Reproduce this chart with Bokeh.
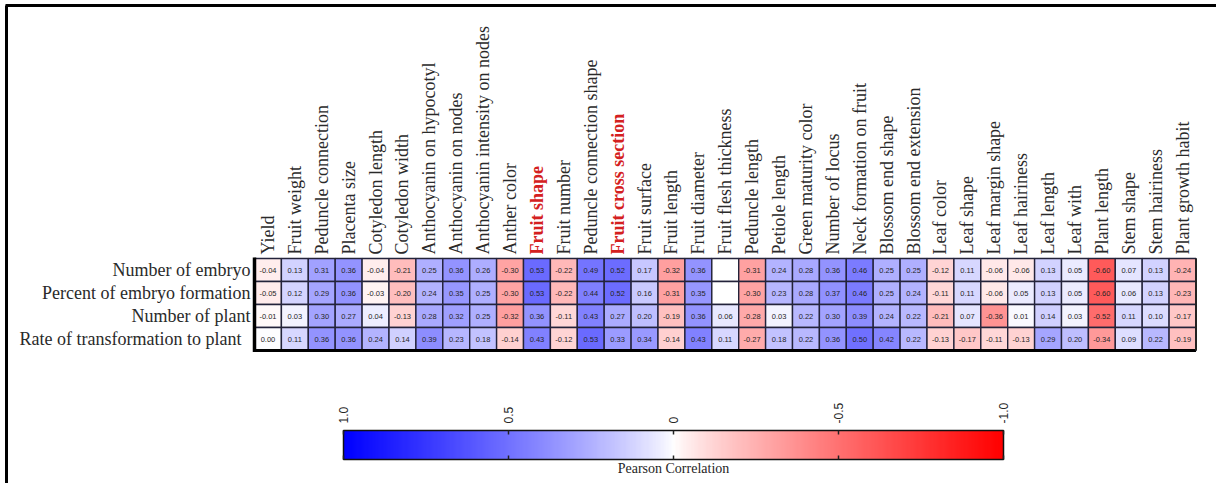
import math
import numpy as np
from bokeh.plotting import figure
from bokeh.models import ColumnDataSource, LinearColorMapper, Range1d
from bokeh.core.properties import value
from bokeh.embed import file_html
from bokeh.resources import INLINE

NaN = float("nan")

traits = [
    "Yield", "Fruit weight", "Peduncle connection", "Placenta size", "Cotyledon length",
    "Cotyledon width", "Anthocyanin  on  hypocotyl", "Anthocyanin  on  nodes",
    "Anthocyanin  intensity  on  nodes", "Anther  color", "Fruit  shape", "Fruit  number",
    "Peduncle  connection  shape", "Fruit  cross  section", "Fruit surface", "Fruit length",
    "Fruit diameter", "Fruit flesh thickness", "Peduncle length", "Petiole length",
    "Green maturity color", "Number of locus", "Neck formation on fruit", "Blossom end shape",
    "Blossom end extension", "Leaf color", "Leaf shape", "Leaf margin shape", "Leaf hairiness",
    "Leaf length", "Leaf with", "Plant length", "Stem shape", "Stem hairiness",
    "Plant growth habit",
]
highlighted = ["Fruit  shape", "Fruit  cross  section"]

row_names = ["Number of embryo", "Percent of embryo formation", "Number of plant",
             "Rate of transformation  to  plant"]

number_of_embryo = [-0.04, 0.13, 0.31, 0.36, -0.04, -0.21, 0.25, 0.36, 0.26, -0.30, 0.53, -0.22,
                    0.49, 0.52, 0.17, -0.32, 0.36, NaN, -0.31, 0.24, 0.28, 0.36, 0.46, 0.25, 0.25,
                    -0.12, 0.11, -0.06, -0.06, 0.13, 0.05, -0.60, 0.07, 0.13, -0.24]
percent_embryo = [-0.05, 0.12, 0.29, 0.36, -0.03, -0.20, 0.24, 0.35, 0.25, -0.30, 0.53, -0.22,
                  0.44, 0.52, 0.16, -0.31, 0.35, NaN, -0.30, 0.23, 0.28, 0.37, 0.46, 0.25, 0.24,
                  -0.11, 0.11, -0.06, 0.05, 0.13, 0.05, -0.60, 0.06, 0.13, -0.23]
number_of_plant = [-0.01, 0.03, 0.30, 0.27, 0.04, -0.13, 0.28, 0.32, 0.25, -0.32, 0.36, -0.11,
                   0.43, 0.27, 0.20, -0.19, 0.36, 0.06, -0.28, 0.03, 0.22, 0.30, 0.39, 0.24, 0.22,
                   -0.21, 0.07, -0.36, 0.01, 0.14, 0.03, -0.52, 0.11, 0.10, -0.17]
rate_to_plant = [0.00, 0.11, 0.36, 0.36, 0.24, 0.14, 0.39, 0.23, 0.18, -0.14, 0.43, -0.12,
                 0.53, 0.33, 0.34, -0.14, 0.43, 0.11, -0.27, 0.18, 0.22, 0.36, 0.50, 0.42, 0.22,
                 -0.13, -0.17, -0.11, -0.13, 0.29, 0.20, -0.34, 0.09, 0.22, -0.19]
series = [number_of_embryo, percent_embryo, number_of_plant, rate_to_plant]

cbar_ticks = [1.0, 0.5, 0.0, -0.5, -1.0]
cbar_labels = ["1.0", "0.5", "0", "-0.5", "-1.0"]
cbar_title = "Pearson Correlation"

# ---- layout (screen pixel coordinates, figure at page origin) ----
FW, FH = 1216, 483
def Y(s):
    return FH - s

TL, CW = 254.0, 26.9
TT, RH = 258.0, 23.0
ncol, nrow = len(traits), len(row_names)
TR = TL + CW * ncol
TB = TT + RH * nrow
CB_L, CB_R, CB_T, CB_B = 343.0, 1003.0, 430.0, 459.0

# ---- colour mapping: -1 red, 0 white, +1 blue ----
pal = []
for k in range(256):
    v = -1 + 2 * k / 255
    a = abs(v) ** 0.85
    g = int(round(255 * (1 - a)))
    if v < 0:
        pal.append("#%02x%02x%02x" % (255, g, g))
    else:
        pal.append("#%02x%02x%02x" % (g, g, 255))
mapper = LinearColorMapper(palette=pal, low=-1, high=1, nan_color="white")

p = figure(width=FW, height=FH, x_range=Range1d(0, FW), y_range=Range1d(0, FH),
           output_backend="svg", toolbar_location=None, min_border=0,
           x_axis_location=None, y_axis_location=None)
p.xgrid.visible = False
p.ygrid.visible = False
p.outline_line_color = None
p.background_fill_color = "white"

# ---- heatmap cells ----
xs, ys, vs, labs = [], [], [], []
for r, vals in enumerate(series):
    for c, v in enumerate(vals):
        xs.append(TL + CW * (c + 0.5))
        ys.append(Y(TT + RH * (r + 0.5)))
        vs.append(v)
        labs.append("" if math.isnan(v) else f"{v:.2f}")
src = ColumnDataSource(dict(x=xs, y=ys, v=np.array(vs, dtype=float), lab=labs))
p.rect(x="x", y="y", width=CW, height=RH, source=src,
       fill_color={"field": "v", "transform": mapper}, line_color="#23233a", line_width=1.4)
p.text(x="x", y="y", text="lab", source=src, text_align="center", text_baseline="middle",
       text_font=value("Liberation Sans"), text_font_size="7.5px", text_color="#262626")

# borders
p.segment(x0=[TL], y0=[Y(TT - 1)], x1=[TL], y1=[Y(TB + 1.5)], line_color="black", line_width=3.5)
p.segment(x0=[TL], y0=[Y(TB)], x1=[TR], y1=[Y(TB)], line_color="black", line_width=3)
p.segment(x0=[TR], y0=[Y(TT)], x1=[TR], y1=[Y(TB)], line_color="#222", line_width=2)

# column labels
ccol = ["#d42020" if t in highlighted else "#2a2a2a" for t in traits]
cstyle = ["bold" if t in highlighted else "normal" for t in traits]
lsrc = ColumnDataSource(dict(x=[TL + CW * (c + 0.5) for c in range(ncol)],
                             y=[Y(TT - 4)] * ncol, t=traits, col=ccol, st=cstyle))
p.text(x="x", y="y", text="t", source=lsrc, angle=math.pi / 2, text_align="left",
       text_baseline="middle", text_font=value("Liberation Serif"), text_font_size="18px",
       text_color="col", text_font_style="st")

# row labels
p.text(x=[TL - 4] * nrow, y=[Y(TT + RH * (r + 0.5)) for r in range(nrow)], text=row_names,
       text_align="right", text_baseline="middle", text_font=value("Liberation Serif"),
       text_font_size="18px", text_color="#2a2a2a")

# ---- colour bar ----
grad = np.linspace(1, -1, 600)[None, :]
p.image(image=[grad], x=CB_L, y=Y(CB_B), dw=CB_R - CB_L, dh=CB_B - CB_T, color_mapper=mapper)
p.rect(x=[(CB_L + CB_R) / 2], y=[Y((CB_T + CB_B) / 2)], width=CB_R - CB_L, height=CB_B - CB_T,
       fill_color=None, line_color="#111", line_width=1.5)
tx = [CB_L + (1 - t) / 2 * (CB_R - CB_L) for t in cbar_ticks]
p.segment(x0=tx, y0=[Y(CB_T)] * 5, x1=tx, y1=[Y(CB_T + 4)] * 5, line_color="#222", line_width=1.5)
p.segment(x0=tx, y0=[Y(CB_B)] * 5, x1=tx, y1=[Y(CB_B - 4)] * 5, line_color="#222", line_width=1.5)
p.text(x=tx, y=[Y(CB_T - 7)] * 5, text=cbar_labels, angle=math.pi / 2, text_align="left",
       text_baseline="middle", text_font=value("Liberation Sans"), text_font_size="12px",
       text_color="#262626")
p.text(x=[(CB_L + CB_R) / 2], y=[Y(CB_B + 9)], text=[cbar_title], text_align="center",
       text_baseline="middle", text_font=value("Liberation Serif"), text_font_size="14px",
       text_color="#262626")

# outer frame (top & left)
p.segment(x0=[5, 6], y0=[Y(5), Y(5)], x1=[FW, 6], y1=[Y(5), Y(FH)], line_color="black",
          line_width=3)

open("out.html", "w").write(file_html(p, INLINE))
